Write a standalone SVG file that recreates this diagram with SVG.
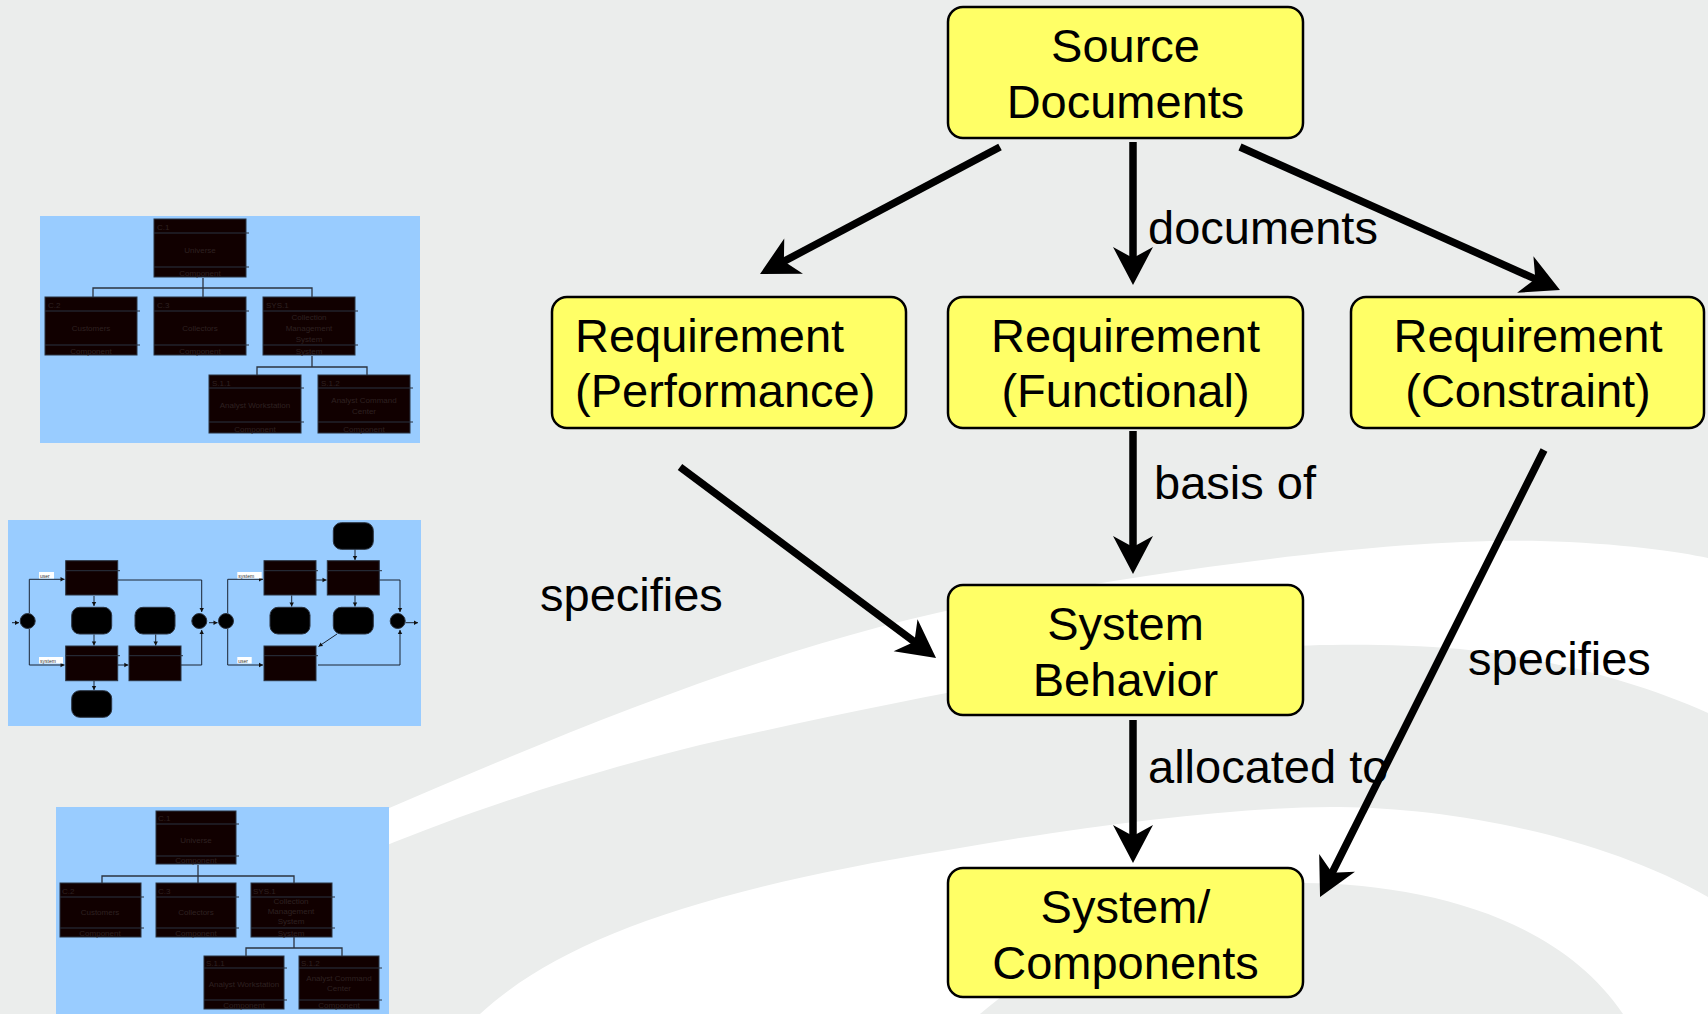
<svg xmlns="http://www.w3.org/2000/svg" width="1708" height="1014" viewBox="0 0 1708 1014">
<style>
.node rect{fill:#ffff66;stroke:#000;stroke-width:2.5}
.lbl{font-family:"Liberation Sans",Arial,sans-serif;font-size:47px;fill:#000}
.mid{text-anchor:middle}
.conn{stroke:#000;stroke-width:7.5;fill:none;marker-end:url(#ah)}
.thumb{fill:#99ccff}
.tb{fill:#110000;stroke:#2b3340;stroke-width:1}
.tl{stroke:#2b3340;stroke-width:1;fill:none}
.tc{stroke:#2b3340;stroke-width:1.3;fill:none}
.tt{font-family:"Liberation Sans",Arial,sans-serif;font-size:8px;fill:#2e2020}
.ttm{font-family:"Liberation Sans",Arial,sans-serif;font-size:8px;fill:#2e2020;text-anchor:middle}
.ta{stroke:#1a2433;stroke-width:1;fill:none;marker-end:url(#sa)}
.tr{fill:#000;stroke:#2b3340;stroke-width:1}
.wl{fill:#fff}
.wt{font-family:"Liberation Sans",Arial,sans-serif;font-size:5px;fill:#333}
</style>
<defs>
<marker id="ah" viewBox="-20 -22 42 44" refX="0" refY="0" markerWidth="42" markerHeight="44" markerUnits="userSpaceOnUse" orient="auto">
<path d="M20,0 L-18,-20 L-7,0 L-18,20 Z" fill="#000"/>
</marker>
<marker id="sa" viewBox="-4 -3 6 6" refX="1" refY="0" markerWidth="6" markerHeight="6" markerUnits="userSpaceOnUse" orient="auto">
<path d="M1,0 L-3,-2.2 L-3,2.2 Z" fill="#111"/>
</marker>
</defs>
<g id="background">
<rect x="0" y="0" width="1708" height="1014" fill="#ebedec"/>
<path fill="#fff" d="M380,812 C560,735 780,640 1000,600 C1200,565 1400,538 1540,541 C1620,543 1680,552 1708,558 L1708,713 C1640,683 1560,660 1460,649 C1380,642 1300,645 1250,648 C1100,660 900,700 700,745 C560,780 460,815 380,848 Z"/>
<path fill="#fff" d="M480,1014 C560,940 700,890 948,850 C1100,823 1250,806 1340,807 C1450,808 1600,835 1708,897 L1708,1014 Z"/>
<path fill="#ebedec" d="M980,1014 C1080,930 1200,882 1303,883 C1430,884 1560,920 1623,1014 Z"/>
</g>
<g id="thumb-hierarchy-top">
<rect class="thumb" x="40" y="216" width="380" height="227"/>
<path class="tc" d="M203,278 V288 M93,297 V288 H312 V297 M203,288 V297 M312,356 V367 M257,375 V367 H367 V375"/>
<rect class="tb" x="154" y="219" width="92" height="58"/><path class="tl" d="M154,233 H249 M154,267 H249"/>
<text class="tt" x="157" y="230">C.1</text><text class="ttm" x="200" y="253">Universe</text><text class="ttm" x="200" y="276">Component</text>
<rect class="tb" x="45" y="297" width="92" height="58"/><path class="tl" d="M45,311 H140 M45,345 H140"/>
<text class="tt" x="48" y="308">C.2</text><text class="ttm" x="91" y="331">Customers</text><text class="ttm" x="91" y="354">Component</text>
<rect class="tb" x="154" y="297" width="92" height="58"/><path class="tl" d="M154,311 H249 M154,345 H249"/>
<text class="tt" x="157" y="308">C.3</text><text class="ttm" x="200" y="331">Collectors</text><text class="ttm" x="200" y="354">Component</text>
<rect class="tb" x="263" y="297" width="92" height="58"/><path class="tl" d="M263,311 H358 M263,345 H358"/>
<text class="tt" x="266" y="308">SYS.1</text><text class="ttm" x="309" y="320">Collection</text><text class="ttm" x="309" y="331">Management</text><text class="ttm" x="309" y="342">System</text><text class="ttm" x="309" y="354">System</text>
<rect class="tb" x="209" y="375" width="92" height="58"/><path class="tl" d="M209,388 H304 M209,422 H304"/>
<text class="tt" x="212" y="386">S.1.1</text><text class="ttm" x="255" y="408">Analyst Workstation</text><text class="ttm" x="255" y="432">Component</text>
<rect class="tb" x="318" y="375" width="92" height="58"/><path class="tl" d="M318,388 H413 M318,422 H413"/>
<text class="tt" x="321" y="386">S.1.2</text><text class="ttm" x="364" y="403">Analyst Command</text><text class="ttm" x="364" y="414">Center</text><text class="ttm" x="364" y="432">Component</text>
</g>
<g id="thumb-flow">
<rect class="thumb" x="8" y="520" width="413" height="206"/>
<path class="ta" d="M12,622.7 H19"/>
<circle class="tr" cx="27.7" cy="621" r="7.5"/>
<path class="ta" d="M29.3,613 V579.3 H64.5"/>
<path class="ta" d="M29.3,629 V665 H64.5"/>
<rect class="wl" x="39" y="572" width="15" height="6.5"/><text class="wt" x="40" y="577.5">user</text>
<rect class="wl" x="39" y="657" width="24" height="6.5"/><text class="wt" x="40" y="662.5">system</text>
<rect class="tb" x="65.7" y="560.7" width="52" height="34.3"/><path class="tl" d="M65.7,570.7 H120"/>
<path class="ta" d="M118,580 H201.7 V612"/>
<path class="ta" d="M94,596 V606"/>
<rect class="tr" x="71.7" y="607.3" width="40" height="26.7" rx="8"/>
<path class="ta" d="M94,634.5 V645.5"/>
<rect class="tb" x="65.7" y="646" width="52" height="34.7"/><path class="tl" d="M65.7,655.7 H120"/>
<path class="ta" d="M94,681 V690"/>
<rect class="tr" x="71.7" y="690.7" width="40" height="26.6" rx="8"/>
<path class="ta" d="M117.7,665 H128.3"/>
<rect class="tb" x="129" y="646" width="52" height="34.7"/><path class="tl" d="M129,655.7 H183"/>
<rect class="tr" x="135" y="607.3" width="40" height="26.7" rx="8"/>
<path class="ta" d="M155.7,634.5 V645.5"/>
<path class="ta" d="M181,665 H201.7 V630"/>
<circle class="tr" cx="199.3" cy="621" r="7.5"/>
<path class="ta" d="M209,622.7 H217.5"/>
<circle class="tr" cx="226" cy="621" r="7.5"/>
<path class="ta" d="M227.7,613 V579.3 H263"/>
<path class="ta" d="M227.7,629 V665 H263"/>
<rect class="wl" x="237.3" y="572" width="24.4" height="6.5"/><text class="wt" x="238.3" y="577.5">system</text>
<rect class="wl" x="237.3" y="657" width="14.4" height="6.5"/><text class="wt" x="238.3" y="662.5">user</text>
<rect class="tb" x="264" y="560.7" width="52" height="34.3"/><path class="tl" d="M264,570.7 H318"/>
<path class="ta" d="M316,580 H326.5"/>
<rect class="tb" x="327.3" y="560.7" width="52" height="34.3"/><path class="tl" d="M327.3,570.7 H382"/>
<rect class="tr" x="333.3" y="522.7" width="40" height="26.6" rx="8"/>
<path class="ta" d="M355,549.5 V560"/>
<path class="ta" d="M291.7,595.5 V606.5"/>
<rect class="tr" x="270" y="607.3" width="40" height="26.7" rx="8"/>
<path class="ta" d="M355,595.5 V606.5"/>
<rect class="tr" x="333.3" y="607.3" width="40" height="26.7" rx="8"/>
<path class="ta" d="M337,634 L318.5,646.5"/>
<rect class="tb" x="264" y="646" width="52" height="34.7"/><path class="tl" d="M264,655.7 H318"/>
<path class="ta" d="M318,665 H400 V630"/>
<path class="ta" d="M379.3,580 H400 V612"/>
<circle class="tr" cx="397.7" cy="621" r="7.5"/>
<path class="ta" d="M405.5,622.7 H418"/>
</g>
<g id="thumb-hierarchy-bottom">
<rect class="thumb" x="56" y="807" width="333" height="207"/>
<path class="tc" d="M198,865 V876 M102,883 V876 H294 V883 M198,876 V883 M294,937 V948 M246,956 V948 H342 V956"/>
<rect class="tb" x="156" y="811" width="80" height="53"/><path class="tl" d="M156,824 H239 M156,856 H239"/>
<text class="tt" x="158" y="821">C.1</text><text class="ttm" x="196" y="843">Universe</text><text class="ttm" x="196" y="863">Component</text>
<rect class="tb" x="60" y="883" width="81" height="54"/><path class="tl" d="M60,897 H144 M60,928 H144"/>
<text class="tt" x="62" y="894">C.2</text><text class="ttm" x="100" y="915">Customers</text><text class="ttm" x="100" y="936">Component</text>
<rect class="tb" x="156" y="883" width="80" height="54"/><path class="tl" d="M156,897 H239 M156,928 H239"/>
<text class="tt" x="158" y="894">C.3</text><text class="ttm" x="196" y="915">Collectors</text><text class="ttm" x="196" y="936">Component</text>
<rect class="tb" x="251" y="883" width="81" height="54"/><path class="tl" d="M251,897 H335 M251,928 H335"/>
<text class="tt" x="253" y="894">SYS.1</text><text class="ttm" x="291" y="904">Collection</text><text class="ttm" x="291" y="914">Management</text><text class="ttm" x="291" y="924">System</text><text class="ttm" x="291" y="936">System</text>
<rect class="tb" x="204" y="956" width="80" height="53"/><path class="tl" d="M204,968 H287 M204,1000 H287"/>
<text class="tt" x="206" y="966">S.1.1</text><text class="ttm" x="244" y="987">Analyst Workstation</text><text class="ttm" x="244" y="1008">Component</text>
<rect class="tb" x="299" y="956" width="80" height="53"/><path class="tl" d="M299,968 H382 M299,1000 H382"/>
<text class="tt" x="301" y="966">S.1.2</text><text class="ttm" x="339" y="981">Analyst Command</text><text class="ttm" x="339" y="991">Center</text><text class="ttm" x="339" y="1008">Component</text>
</g>
<g id="connectors">
<path class="conn" d="M1000,147 L777.7,264.6"/>
<path class="conn" d="M1133,142 L1133,265"/>
<path class="conn" d="M1240,147 L1541.7,281.8"/>
<path class="conn" d="M680,467 L920,646"/>
<path class="conn" d="M1133,431 L1133,554"/>
<path class="conn" d="M1133,720 L1133,843"/>
<path class="conn" d="M1544,450 L1329,879"/>
<text class="lbl" x="1148" y="244">documents</text>
<text class="lbl" x="1154" y="499">basis of</text>
<text class="lbl" x="540" y="611">specifies</text>
<text class="lbl" x="1468" y="675">specifies</text>
<text class="lbl" x="1148" y="783">allocated to</text>
</g>
<g id="node-source" class="node">
<rect x="948" y="7" width="355" height="131" rx="15"/>
<text class="lbl mid" x="1125.5" y="62">Source</text>
<text class="lbl mid" x="1125.5" y="118">Documents</text>
</g>
<g id="node-performance" class="node">
<rect x="552" y="297" width="354" height="131" rx="15"/>
<text class="lbl" x="575" y="352">Requirement</text>
<text class="lbl" x="575" y="407">(Performance)</text>
</g>
<g id="node-functional" class="node">
<rect x="948" y="297" width="355" height="131" rx="15"/>
<text class="lbl mid" x="1125.5" y="352">Requirement</text>
<text class="lbl mid" x="1125.5" y="407">(Functional)</text>
</g>
<g id="node-constraint" class="node">
<rect x="1351" y="297" width="353" height="131" rx="15"/>
<text class="lbl mid" x="1528" y="352">Requirement</text>
<text class="lbl mid" x="1528" y="407">(Constraint)</text>
</g>
<g id="node-behavior" class="node">
<rect x="948" y="585" width="355" height="130" rx="15"/>
<text class="lbl mid" x="1125.5" y="640">System</text>
<text class="lbl mid" x="1125.5" y="696">Behavior</text>
</g>
<g id="node-components" class="node">
<rect x="948" y="868" width="355" height="129" rx="15"/>
<text class="lbl mid" x="1125.5" y="923">System/</text>
<text class="lbl mid" x="1125.5" y="979">Components</text>
</g>
</svg>
